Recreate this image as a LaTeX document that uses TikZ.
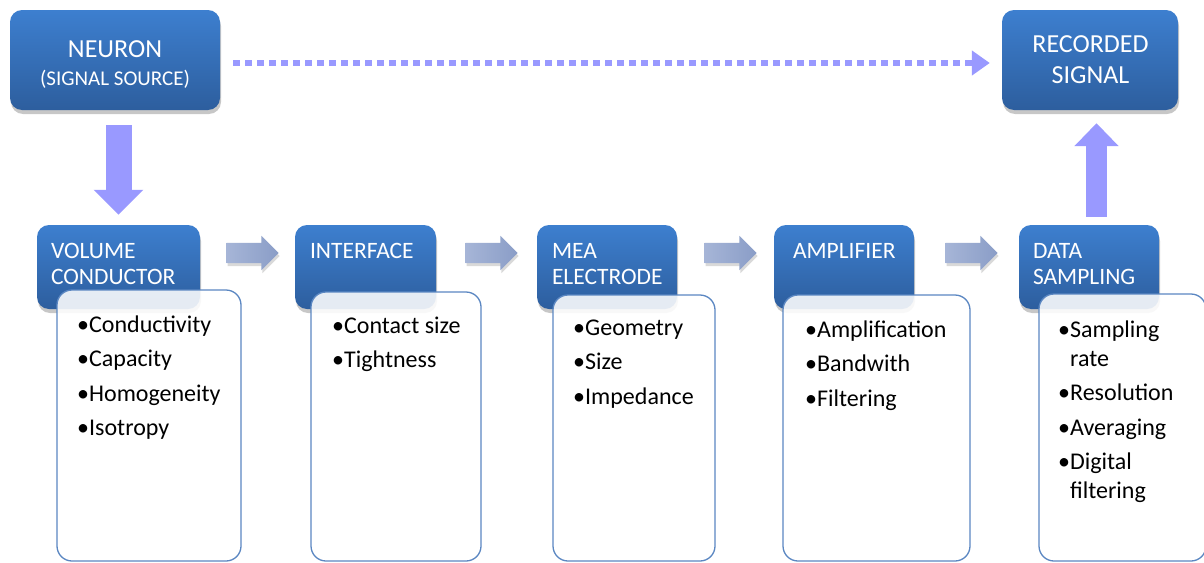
\documentclass[tikz,border=0pt]{standalone}
\usepackage{fontspec}
\setmainfont{Carlito}
\usetikzlibrary{arrows.meta,shapes.arrows,shadows,calc}
\definecolor{boxtop}{HTML}{3D7FCF}
\definecolor{boxbot}{HTML}{2D5E9E}
\definecolor{lilac}{HTML}{9999FF}
\definecolor{edgeblue}{HTML}{5B87C2}
\definecolor{arrL}{HTML}{A6B5D7}
\definecolor{arrR}{HTML}{8A9DC7}
\newcommand\fstrut[1]{\rule{0pt}{#1}}
\begin{document}
\begin{tikzpicture}[x=1pt,y=-1pt,
  bluebox/.style={rectangle, rounded corners=12pt, top color=boxtop, bottom color=boxbot, draw=none, inner sep=0pt,
    drop shadow={shadow xshift=1pt, shadow yshift=-4pt, fill=black, opacity=0.22}},
  whitebox/.style={rectangle, rounded corners=15pt, fill=white, fill opacity=0.88, draw=edgeblue, line width=1.3pt, inner sep=0pt},
  titletext/.style={text=white, anchor=north west, align=left, inner sep=0pt, font=\fontsize{23.5}{26.5}\selectfont},
  headtext/.style={text=white, anchor=north, align=center, inner sep=0pt},
  bullettext/.style={text=black, anchor=north west, align=left, inner sep=0pt, font=\fontsize{24}{29}\selectfont},
  steparrow/.style={single arrow, single arrow head extend=7pt, single arrow head indent=0pt, inner sep=0pt,
    text height=10pt, text depth=10pt, text width=0pt,
    minimum height=52pt, minimum width=34pt, draw=none, left color=arrL, right color=arrR,
    drop shadow={shadow xshift=1pt, shadow yshift=-3pt, fill=black, opacity=0.15}},
  bigdown/.style={draw=lilac, line width=26pt, -{Triangle[width=48pt,length=25pt]}},
  bigup/.style={draw=lilac, line width=21pt, -{Triangle[width=43pt,length=23pt]}},
  dotarrow/.style={draw=lilac, line width=6.5pt, dash pattern=on 6.5pt off 5.5pt, -{Triangle[width=24pt,length=18pt]}}
]
\clip (0,0) rectangle (1204,562);
\fill[white] (0,0) rectangle (1204,562);

% top boxes
\node[bluebox, minimum width=210pt, minimum height=100pt] (neuron) at (115,60) {};
\node[bluebox, minimum width=176pt, minimum height=100pt] (rec) at (1090,60) {};
\node[headtext, font=\fontsize{21}{28}\selectfont] (neurontxt) at (115,35) {{\fontsize{26}{28}\selectfont\fstrut{22pt}NEURON}\\(SIGNAL SOURCE)};
\node[headtext, font=\fontsize{26}{31}\selectfont] (rectxt) at (1090.5,30) {\fstrut{22pt}RECORDED\\SIGNAL};

% step boxes
\node[bluebox, minimum width=163pt, minimum height=84pt] (vc) at (118.5,267) {};
\node[bluebox, minimum width=141pt, minimum height=84pt] (if) at (365.5,267) {};
\node[bluebox, minimum width=140pt, minimum height=84pt] (mea) at (607,267) {};
\node[bluebox, minimum width=140pt, minimum height=84pt] (amp) at (844,267) {};
\node[bluebox, minimum width=140pt, minimum height=84pt] (ds) at (1089,267) {};

\node[titletext] (vct) at ([xshift=14pt,yshift=-15pt]vc.north west) {\fstrut{18pt}VOLUME\\CONDUCTOR};
\node[titletext] (ift) at ([xshift=15pt,yshift=-15pt]if.north west) {\fstrut{18pt}INTERFACE};
\node[titletext] (meat) at ([xshift=15pt,yshift=-15pt]mea.north west) {\fstrut{18pt}MEA\\ELECTRODE};
\node[titletext] (ampt) at ([xshift=19pt,yshift=-15pt]amp.north west) {\fstrut{18pt}AMPLIFIER};
\node[titletext] (dst) at ([xshift=14pt,yshift=-15pt]ds.north west) {\fstrut{18pt}DATA\\SAMPLING};

% white detail boxes
\node[whitebox, minimum width=184pt, minimum height=271pt] (vcw) at (149,425.5) {};
\node[whitebox, minimum width=170pt, minimum height=269pt] (ifw) at (396,426.5) {};
\node[whitebox, minimum width=162pt, minimum height=266pt] (meaw) at (634,428) {};
\node[whitebox, minimum width=187pt, minimum height=266pt] (ampw) at (876.5,428) {};
\node[whitebox, minimum width=167pt, minimum height=267pt] (dsw) at (1122.5,427.5) {};

\node[bullettext] (vcl) at (77,312) {\fstrut{20pt}•Conductivity\\[5.5pt]•Capacity\\[5.5pt]•Homogeneity\\[5.5pt]•Isotropy};
\node[bullettext] (ifl) at (332,313) {\fstrut{20pt}•Contact size\\[5.5pt]•Tightness};
\node[bullettext] (meal) at (573,315) {\fstrut{20pt}•Geometry\\[5.5pt]•Size\\[5.5pt]•Impedance};
\node[bullettext] (ampl) at (805,317) {\fstrut{20pt}•Amplification\\[5.5pt]•Bandwith\\[5.5pt]•Filtering};
\node[bullettext] (dsl) at (1058,317) {\fstrut{20pt}•Sampling\\\phantom{•}rate\\[5.5pt]•Resolution\\[5.5pt]•Averaging\\[5.5pt]•Digital\\\phantom{•}filtering};

% step arrows
\node[steparrow] (a1) at ([yshift=14pt]$(vc.east)!0.5!(if.west)$) {};
\node[steparrow] (a2) at ([yshift=14pt]$(if.east)!0.5!(mea.west)$) {};
\node[steparrow] (a3) at ([yshift=14pt]$(mea.east)!0.5!(amp.west)$) {};
\node[steparrow] (a4) at ([yshift=14pt]$(amp.east)!0.5!(ds.west)$) {};

% lilac connectors
\draw[bigdown, shorten <=15pt, shorten >=10pt] (vc.north |- neuron.south) -- (vc.north);
\draw[bigup, shorten <=8pt, shorten >=13pt] ([xshift=7.5pt]ds.north) -- ([xshift=7.5pt]ds.north |- rec.south);
\draw[dotarrow, shorten <=13pt, shorten >=12pt] ([yshift=-3pt]neuron.east) -- ([yshift=-3pt]rec.west);
\end{tikzpicture}
\end{document}
